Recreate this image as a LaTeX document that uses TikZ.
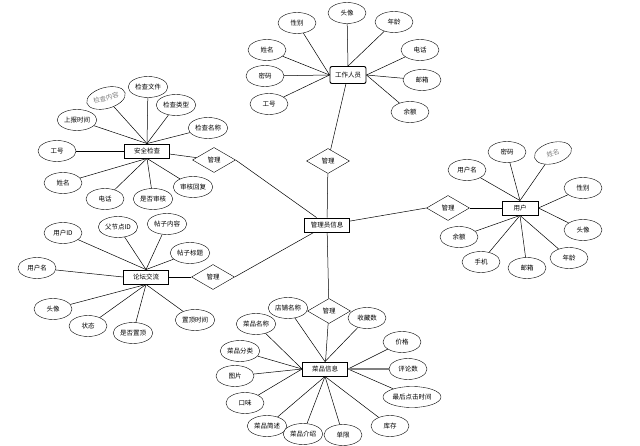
\documentclass[tikz,border=0pt]{standalone}
\usepackage{fontspec}
\newfontfamily\cjk{Noto Sans CJK SC}
\usetikzlibrary{shapes.geometric, backgrounds}

\begin{document}
\begin{tikzpicture}[
    x=1pt, y=-1pt,
    every node/.style={font=\cjk\fontsize{6.5}{7}\selectfont},
    entity/.style={rectangle, draw, line width=0.9pt, fill=white,
                   minimum width=45pt, minimum height=14pt, inner sep=1pt},
    attr/.style={ellipse, draw, fill=white, minimum width=38pt,
                 minimum height=21pt, inner sep=1pt},
    rel/.style={diamond, draw, fill=white, minimum width=43pt,
                minimum height=25pt, inner sep=0pt, aspect=1.7},
    faded/.style={attr, text=gray, rotate=15},
    link/.style={black, line width=0.5pt},
  ]
    \useasboundingbox (0,0) rectangle (640,446);

    % entities
    \node[entity] (admin) at (327,225) {管理员信息};
    \node[entity, rounded corners=2pt, minimum width=36pt, minimum height=17pt] (staff) at (348,75) {工作人员};
    \node[entity] (check) at (147,151) {安全检查};
    \node[entity] (forum) at (146,277) {论坛交流};
    \node[entity, minimum width=36pt] (user) at (520,208) {用户};
    \node[entity] (dish) at (325,369) {菜品信息};

    % relations
    \node[rel] (m1) at (328,161) {管理};
    \node[rel] (m2) at (214,160) {管理};
    \node[rel] (m3) at (213,277) {管理};
    \node[rel] (m4) at (448,208) {管理};
    \node[rel] (m5) at (329,311) {管理};

    % staff attributes
    \node[attr] (s1) at (297,23) {性别};
    \node[attr] (s2) at (347,13) {头像};
    \node[attr] (s3) at (394,22) {年龄};
    \node[attr] (s4) at (267,50) {姓名};
    \node[attr] (s5) at (420,50) {电话};
    \node[attr] (s6) at (265,76) {密码};
    \node[attr] (s7) at (422,80) {邮箱};
    \node[attr] (s8) at (269,104) {工号};
    \node[attr] (s9) at (410,112) {余额};

    % check attributes
    \node[faded] (c1) at (106,98) {检查内容};
    \node[attr] (c2) at (148,87) {检查文件};
    \node[attr] (c3) at (176,105) {检查类型};
    \node[attr] (c4) at (77,120) {上报时间};
    \node[attr] (c5) at (208,128) {检查名称};
    \node[attr] (c6) at (57,151) {工号};
    \node[attr] (c7) at (63,183) {姓名};
    \node[attr] (c8) at (105,199) {电话};
    \node[attr] (c9) at (153,199) {是否审核};
    \node[attr] (c10) at (193,187) {审核回复};

    % forum attributes
    \node[attr] (f1) at (63,233) {用户ID};
    \node[attr] (f2) at (118,227) {父节点ID};
    \node[attr] (f3) at (167,224) {帖子内容};
    \node[attr] (f4) at (190,253) {帖子标题};
    \node[attr] (f5) at (37,268) {用户名};
    \node[attr] (f6) at (53,309) {头像};
    \node[attr] (f7) at (88,326) {状态};
    \node[attr] (f8) at (133,333) {是否置顶};
    \node[attr] (f9) at (195,320) {置顶时间};

    % user attributes
    \node[attr] (u1) at (467,170) {用户名};
    \node[attr] (u2) at (507,152) {密码};
    \node[faded] (u3) at (553,153) {姓名};
    \node[attr] (u4) at (583,188) {性别};
    \node[attr] (u5) at (583,230) {头像};
    \node[attr] (u6) at (569,258) {年龄};
    \node[attr] (u7) at (527,268) {邮箱};
    \node[attr] (u8) at (481,262) {手机};
    \node[attr] (u9) at (459,237) {余额};

    % dish attributes
    \node[attr] (d1) at (288,308) {店铺名称};
    \node[attr] (d2) at (256,324) {菜品名称};
    \node[attr] (d3) at (367,318) {收藏数};
    \node[attr] (d4) at (402,342) {价格};
    \node[attr] (d5) at (240,351) {菜品分类};
    \node[attr] (d6) at (408,369) {评论数};
    \node[attr] (d7) at (235,376) {图片};
    \node[attr] (d8) at (412,397) {最后点击时间};
    \node[attr] (d9) at (245,403) {口味};
    \node[attr] (d10) at (267,426) {菜品简述};
    \node[attr] (d11) at (303,434) {菜品介绍};
    \node[attr] (d12) at (343,435) {单限};
    \node[attr] (d13) at (390,426) {库存};

    \begin{scope}[on background layer]
      \draw[link] (staff) -- (m1);
      \draw[link] (m1) -- (admin);
      \draw[link] (check) -- (m2);
      \draw[link] (m2.east) -- (admin);
      \draw[link] (forum) -- (m3);
      \draw[link] (m3.east) -- (admin);
      \draw[link] (user) -- (m4);
      \draw[link] (m4.west) -- (admin);
      \draw[link] (admin) -- (m5);
      \draw[link] (m5) -- (dish);

      % connectors meet at the entity's side points
      \foreach \a in {s1,s4,s6,s8} \draw[link] (staff.west) -- (\a);
      \foreach \a in {s2,s3} \draw[link] (staff.north) -- (\a);
      \foreach \a in {s5,s7,s9} \draw[link] (staff.east) -- (\a);

      \foreach \a in {c1,c2,c3,c4,c5} \draw[link] (check.north) -- (\a);
      \draw[link] (check.west) -- (c6);
      \foreach \a in {c7,c8,c9,c10} \draw[link] (check.south) -- (\a);

      \foreach \a in {f1,f2,f3,f4} \draw[link] (forum.north) -- (\a);
      \draw[link] (forum.west) -- (f5);
      \foreach \a in {f6,f7,f8,f9} \draw[link] (forum.south) -- (\a);

      \foreach \a in {u1,u2,u3} \draw[link] (user.north) -- (\a);
      \foreach \a in {u4,u5} \draw[link] (user.east) -- (\a);
      \foreach \a in {u6,u7,u8,u9} \draw[link] (user.south) -- (\a);

      \foreach \a in {d1,d3} \draw[link] (dish.north) -- (\a);
      \foreach \a in {d2,d5,d7,d9} \draw[link] (dish.west) -- (\a);
      \foreach \a in {d4,d8} \draw[link] (dish.east) -- (\a);
      \draw[link, line width=1.2pt, gray] (dish.east) -- (d6);
      \foreach \a in {d10,d11,d12,d13} \draw[link] (dish.south) -- (\a);
    \end{scope}
  \end{tikzpicture}
\end{document}
